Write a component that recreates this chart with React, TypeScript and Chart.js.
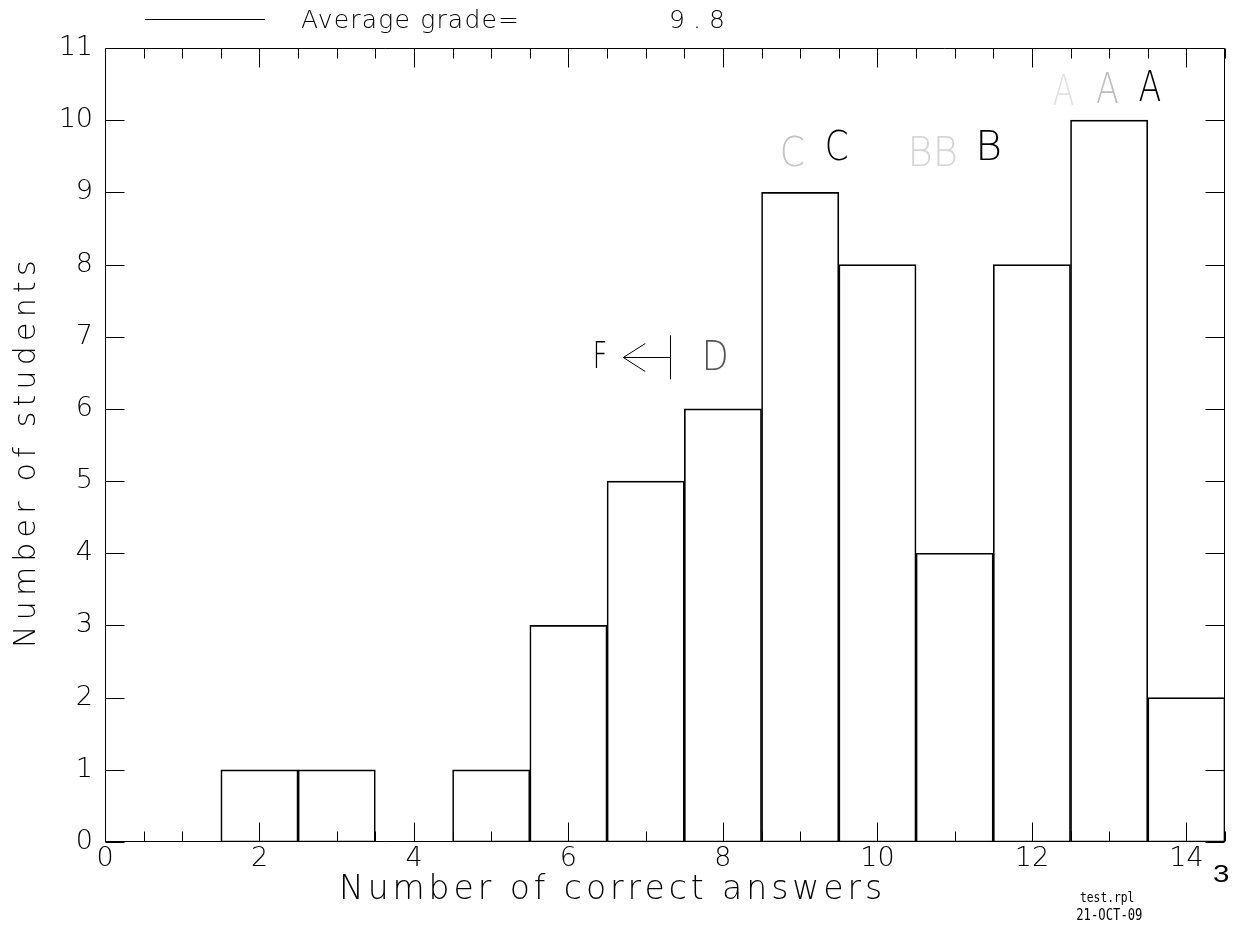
import React, { useEffect, useRef } from 'react';
import { Chart, registerables } from 'chart.js';

Chart.register(...registerables);

// ---------- data ----------
const answerCounts = [0, 1, 2, 3, 4, 5, 6, 7, 8, 9, 10, 11, 12, 13, 14];
const studentCounts = [0, 0, 1, 1, 0, 1, 3, 5, 6, 9, 8, 4, 8, 10, 2];
const xTickValues = [0, 2, 4, 6, 8, 10, 12, 14];
const xMinorTickValues = [0.5, 1, 1.5, 2.5, 3, 3.5, 4.5, 5, 5.5, 6.5, 7, 7.5, 8.5, 9, 9.5, 10.5, 11, 11.5, 12.5, 13, 13.5, 14.5];
const yTickValues = [0, 1, 2, 3, 4, 5, 6, 7, 8, 9, 10, 11];
const averageGradeLabel = 'Average grade=';
const averageGrade = '9.8';
const xAxisTitle = 'Number of correct answers';
const yAxisTitle = 'Number of students';
const pageNumber = '3';
const fileName = 'test.rpl';
const plotDate = '21-OCT-09';

// grade letters placed in data coordinates (left edge x, baseline y)
const gradeLetters = [
  { text: 'C', x: 8.77, y: 9.36, w: 21, size: 41, color: '#c4c4c4' },
  { text: 'C', x: 9.35, y: 9.45, w: 20, size: 41, color: '#000000' },
  { text: 'BB', x: 10.45, y: 9.36, w: 44, size: 41, color: '#d6d6d6' },
  { text: 'B', x: 11.33, y: 9.45, w: 20, size: 41, color: '#000000' },
  { text: 'A', x: 12.28, y: 10.21, w: 20, size: 43, color: '#e2e2e2' },
  { text: 'A', x: 12.84, y: 10.24, w: 21, size: 43, color: '#bdbdbd' },
  { text: 'A', x: 13.39, y: 10.26, w: 21, size: 43, color: '#000000' },
  { text: 'F', x: 6.35, y: 6.57, w: 10, size: 38, color: '#000000' },
  { text: 'D', x: 7.77, y: 6.54, w: 21, size: 40, color: '#555555' },
];
// F <-| D cutoff marker (data coords)
const cutoffArrow = { tipX: 6.71, barX: 7.32, y: 6.72, barTop: 7.02, barBottom: 6.41 };

const FONT = "'DejaVu Sans', sans-serif";
const MONO = "'DejaVu Sans Mono', monospace";

function drawFitted(
  ctx: CanvasRenderingContext2D,
  text: string,
  x: number,
  y: number,
  size: number,
  width: number,
  opts: { rotate?: number; color?: string; weight?: string; family?: string; mode?: 'spacing' | 'scale' } = {}
) {
  const { rotate = 0, color = '#000', weight = '200', family = FONT, mode = 'spacing' } = opts;
  ctx.save();
  ctx.font = `${weight} ${size}px ${family}`;
  ctx.fillStyle = color;
  ctx.textAlign = 'left';
  ctx.textBaseline = 'alphabetic';
  (ctx as any).letterSpacing = '0px';
  ctx.translate(x, y);
  if (rotate) ctx.rotate(rotate);
  const m = ctx.measureText(text);
  const natural = m.actualBoundingBoxLeft + m.actualBoundingBoxRight;
  const n = Array.from(text).length;
  if (mode === 'spacing' && n > 1) {
    const ls = (width - natural) / (n - 1);
    (ctx as any).letterSpacing = `${ls}px`;
    ctx.fillText(text, m.actualBoundingBoxLeft, 0);
  } else {
    ctx.scale(width / natural, 1);
    ctx.fillText(text, m.actualBoundingBoxLeft, 0);
  }
  (ctx as any).letterSpacing = '0px';
  ctx.restore();
}

const framePlugin = {
  id: 'framePlugin',
  afterDatasetsDraw(chart: any) {
    const ctx: CanvasRenderingContext2D = chart.ctx;
    const { left, right, top, bottom } = chart.chartArea;
    const xs = chart.scales.x;
    const ys = chart.scales.y;
    const L = Math.round(left) + 0.5;
    const R = Math.round(right) - 0.5;
    const T = Math.round(top) + 0.5;
    const B = Math.round(bottom) - 0.5;
    ctx.save();
    ctx.strokeStyle = '#000';
    ctx.lineWidth = 1;
    ctx.beginPath();
    ctx.rect(L, T, R - L, B - T);
    // x ticks (bottom + top)
    const xt = (v: number, len: number) => {
      const px = Math.round(xs.getPixelForValue(v)) + 0.5;
      ctx.moveTo(px, B);
      ctx.lineTo(px, B - len);
      ctx.moveTo(px, T);
      ctx.lineTo(px, T + len);
    };
    xMinorTickValues.forEach((v) => xt(v, 10));
    xTickValues.forEach((v) => xt(v, 19));
    // y ticks (left + right)
    yTickValues.forEach((v) => {
      const py = Math.round(ys.getPixelForValue(v)) + 0.5;
      ctx.moveTo(L, py);
      ctx.lineTo(L + 19, py);
      ctx.moveTo(R, py);
      ctx.lineTo(R - 19, py);
    });
    ctx.stroke();

    // cutoff arrow
    const tipX = xs.getPixelForValue(cutoffArrow.tipX);
    const barX = Math.round(xs.getPixelForValue(cutoffArrow.barX)) + 0.5;
    const ay = Math.round(ys.getPixelForValue(cutoffArrow.y)) + 0.5;
    ctx.beginPath();
    ctx.moveTo(tipX, ay);
    ctx.lineTo(barX, ay);
    ctx.moveTo(tipX + 22, ay - 14);
    ctx.lineTo(tipX, ay);
    ctx.lineTo(tipX + 22, ay + 14);
    ctx.moveTo(barX, ys.getPixelForValue(cutoffArrow.barTop));
    ctx.lineTo(barX, ys.getPixelForValue(cutoffArrow.barBottom));
    ctx.stroke();
    ctx.restore();

    gradeLetters.forEach((g) => {
      drawFitted(ctx, g.text, xs.getPixelForValue(g.x), ys.getPixelForValue(g.y), g.size, g.w, {
        color: g.color,
        mode: 'scale',
      });
    });
  },
  afterDraw(chart: any) {
    const ctx: CanvasRenderingContext2D = chart.ctx;
    // legend line and text
    ctx.save();
    ctx.strokeStyle = '#000';
    ctx.lineWidth = 1;
    ctx.beginPath();
    ctx.moveTo(145, 19.5);
    ctx.lineTo(265, 19.5);
    ctx.stroke();
    ctx.restore();
    drawFitted(ctx, averageGradeLabel, 301, 28, 25, 216);
    drawFitted(ctx, averageGrade, 671, 28, 25, 52);
    // axis titles
    drawFitted(ctx, xAxisTitle, 343, 899, 33, 537);
    drawFitted(ctx, yAxisTitle, 35, 645, 30, 383, { rotate: -Math.PI / 2 });
    // footer
    drawFitted(ctx, pageNumber, 1213, 882, 24, 16, { weight: 'normal', family: "'Liberation Sans', Arial, sans-serif", mode: 'scale' });
    drawFitted(ctx, fileName, 1080, 902, 14, 54, { weight: 'normal', family: MONO, mode: 'scale' });
    drawFitted(ctx, plotDate, 1077, 920, 16, 65, { weight: 'normal', family: MONO, mode: 'scale' });
  },
};

export default function App() {
  const ref = useRef<HTMLCanvasElement>(null);
  useEffect(() => {
    if (!ref.current) return;
    const tickFont = { family: FONT, size: 27, weight: '200' as any };
    const chart = new Chart(ref.current, {
      type: 'bar',
      data: {
        datasets: [
          {
            data: answerCounts.map((x, i) => ({ x, y: studentCounts[i] })),
            backgroundColor: 'rgba(0,0,0,0)',
            borderColor: '#000',
            borderWidth: 1,
            borderSkipped: false,
            barPercentage: 1,
            categoryPercentage: 1,
          } as any,
        ],
      },
      options: {
        responsive: false,
        animation: false,
        devicePixelRatio: 1,
        layout: { padding: { top: 48, right: 16, left: 0, bottom: 0 } },
        plugins: { legend: { display: false }, tooltip: { enabled: false } },
        scales: {
          x: {
            type: 'linear',
            min: 0,
            max: 14.5,
            offset: false,
            grid: { display: false, drawTicks: false },
            border: { display: false },
            ticks: { font: tickFont, color: '#000', padding: 1, maxRotation: 0, autoSkip: false },
            afterBuildTicks: (s: any) => {
              s.ticks = xTickValues.map((v) => ({ value: v }));
            },
            afterFit: (s: any) => {
              s.height = 92;
            },
          },
          y: {
            type: 'linear',
            min: 0,
            max: 11,
            grid: { display: false, drawTicks: false },
            border: { display: false },
            ticks: { font: tickFont, color: '#000', padding: 12, autoSkip: false },
            afterBuildTicks: (s: any) => {
              s.ticks = yTickValues.map((v) => ({ value: v }));
            },
            afterFit: (s: any) => {
              s.width = 105;
            },
          },
        },
      } as any,
      plugins: [framePlugin],
    });
    return () => chart.destroy();
  }, []);
  return (
    <div style={{ position: 'fixed', left: 0, top: 0, width: 1241, height: 934, background: '#fff' }}>
      <canvas ref={ref} width={1241} height={934} style={{ display: 'block', width: 1241, height: 934 }} />
    </div>
  );
}
